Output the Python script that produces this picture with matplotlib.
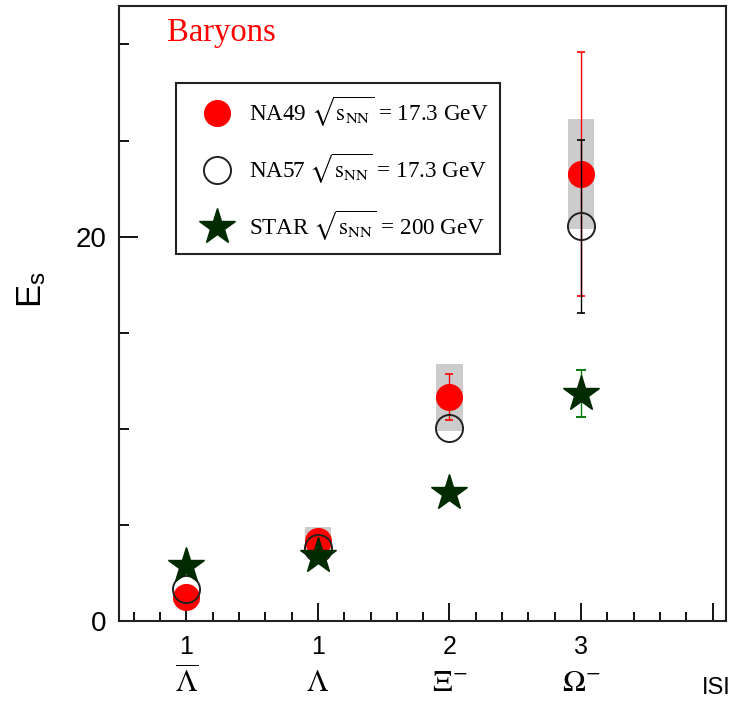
import numpy as np
import matplotlib
matplotlib.use("Agg")
import matplotlib.pyplot as plt
from matplotlib.ticker import MultipleLocator, FixedLocator
from matplotlib.lines import Line2D

plt.rcParams['mathtext.fontset'] = 'stix'
plt.rcParams['font.family'] = ['Liberation Sans', 'DejaVu Sans']

# particles and |S| content
xpos = [1, 2, 3, 4]
s_labels = ['1', '1', '2', '3']
particles = [r'$\overline{\Lambda}$', r'$\Lambda$', r'$\Xi^{-}$', r'$\Omega^{-}$']

# NA49 (filled red), stat + syst
na49 = [1.25, 4.2, 11.65, 23.25]
na49_stat = [np.nan, np.nan, 1.2, 6.35]
na49_sys = [0.3, 0.7, 1.75, 2.85]

# NA57 (open circles)
na57 = [1.7, 3.8, 10.05, 20.55]
na57_stat = [np.nan, np.nan, np.nan, 4.5]

# STAR (stars)
star = [2.9, 3.4, 6.7, 11.85]
star_stat = [np.nan, np.nan, np.nan, 1.2]

box_hw = 0.1

fig = plt.figure(figsize=(7.32, 7.06), dpi=100)
ax = fig.add_axes([0.163, 0.1197, 0.8284, 0.8718])

# systematic boxes
for x, y, s in zip(xpos, na49, na49_sys):
    ax.add_patch(plt.Rectangle((x - box_hw, y - s), 2 * box_hw, 2 * s,
                               facecolor='#cccccc', edgecolor='none', zorder=1))

ax.errorbar(xpos, na49, yerr=na49_stat, fmt='none', ecolor='red', elinewidth=1.0,
            capsize=3, capthick=1.2, zorder=2)
ax.plot(xpos, na49, 'o', color='red', ms=18.5, mec='red', zorder=3)
ax.errorbar(xpos, na57, yerr=na57_stat, fmt='none', ecolor='black', elinewidth=1.0,
            capsize=3, capthick=1.2, zorder=4)
ax.plot(xpos, na57, 'o', mfc='none', mec='#222222', mew=1.4, ms=19.5, zorder=5)
ax.errorbar(xpos, star, yerr=star_stat, fmt='none', ecolor='#0a7a0a', elinewidth=1.0,
            capsize=3.5, capthick=1.4, zorder=6)
ax.plot(xpos, star, '*', color='#002a00', mec='#002a00', ms=27, zorder=7)

ax.set_xlim(0.49, 5.1)
ax.set_ylim(0, 32)

ax.xaxis.set_major_locator(FixedLocator([1, 2, 3, 4, 5]))
ax.xaxis.set_minor_locator(MultipleLocator(0.2))
ax.set_xticklabels(s_labels + [''])
ax.yaxis.set_major_locator(MultipleLocator(20))
ax.yaxis.set_minor_locator(MultipleLocator(5))

ax.tick_params(which='both', direction='in', top=False, right=False, width=1.3)
ax.tick_params(axis='x', which='major', length=13, pad=10, labelsize=18)
ax.tick_params(axis='x', which='minor', length=6.5)
ax.tick_params(axis='y', which='major', length=14, pad=9, labelsize=20)
ax.tick_params(axis='y', which='minor', length=7.5)
for sp in ax.spines.values():
    sp.set_linewidth(1.5)
    sp.set_color('#222222')

# particle names under the |S| numbers
for x, name in zip(xpos, particles):
    ax.text(x, -0.1, name, transform=ax.get_xaxis_transform(), ha='center',
            va='center', fontsize=22, family='Liberation Serif')
fig.text(0.998, 1 - 688 / 706, 'ISI', ha='right', va='center', fontsize=17)

ax.set_ylabel(r'E$_\mathregular{s}$', fontsize=25)
ax.yaxis.set_label_coords(-0.118, 0.54)

ax.text(0.0787, 0.9436, 'Baryons', transform=ax.transAxes, color='red',
        fontsize=23.5, family='Liberation Serif', va='baseline')

handles = [
    Line2D([], [], ls='none', marker='o', color='red', ms=18.5),
    Line2D([], [], ls='none', marker='o', mfc='none', mec='#222222', mew=1.4, ms=19.5),
    Line2D([], [], ls='none', marker='*', color='#002a00', ms=27),
]
labels = [
    r'NA49 $\sqrt{\mathrm{s}_{\mathrm{NN}}}$ = 17.3 GeV',
    r'NA57 $\sqrt{\mathrm{s}_{\mathrm{NN}}}$ = 17.3 GeV',
    r'STAR $\sqrt{\mathrm{s}_{\mathrm{NN}}}$ = 200 GeV',
]
leg = ax.legend(handles, labels, loc='upper left', bbox_to_anchor=(0.0935, 0.875),
                borderaxespad=0, prop={'family': 'Liberation Serif', 'size': 16.7},
                frameon=True, fancybox=False, edgecolor='#222222', framealpha=1,
                borderpad=0.5, handlelength=2.55, handletextpad=0.1, labelspacing=0.98)
leg.get_frame().set_linewidth(1.5)

fig.savefig('out.png', dpi=100)
